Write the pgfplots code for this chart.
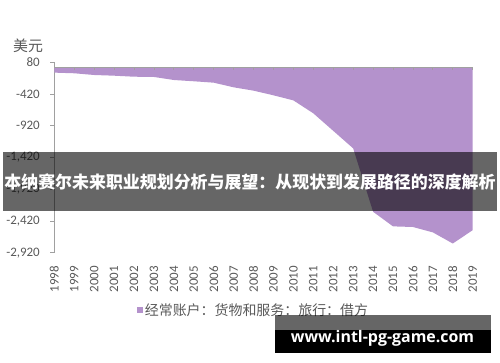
\documentclass[border=0pt]{standalone}
\usepackage{fontspec}
\setmainfont{Carlito}
\newfontfamily\cjk{Noto Sans CJK SC}
\newfontfamily\wm{Open Sans}
\usepackage{pgfplots}
\pgfplotsset{compat=1.18}
\definecolor{areapurple}{RGB}{180,146,204}
\definecolor{txtgray}{RGB}{89,89,89}
\definecolor{axgray}{RGB}{160,160,160}
\begin{document}
\begin{tikzpicture}[x=1bp,y=1bp]
\path[use as bounding box] (0,0) rectangle (500,362);
\begin{axis}[
  at={(54.3bp,109.3bp)}, anchor=south west,
  scale only axis, width=418.4bp, height=190.4bp,
  xmin=0, xmax=21, ymin=-2920, ymax=80,
  axis lines*=left,
  x axis line style={draw=none},
  y axis line style={axgray, line width=0.8bp},
  xtick={0,...,21},
  xticklabels={1998,1999,2000,2001,2002,2003,2004,2005,2006,2007,2008,2009,2010,2011,2012,2013,2014,2015,2016,2017,2018,2019},
  xtick style={draw=none},
  xticklabel style={rotate=90, anchor=east, inner sep=0pt, font=\fontsize{13}{13}\selectfont, text=txtgray},
  xticklabel shift=9bp,
  ytick={80,-420,-920,-1420,-1920,-2420,-2920},
  yticklabels={80,-420,-920,{-1,420},{-1,920},{-2,420},{-2,920}},
  yticklabel style={anchor=east, inner sep=0pt, font=\fontsize{13}{13}\selectfont, text=txtgray},
  yticklabel shift=10bp,
  ytick style={axgray, line width=0.8bp},
  tick align=outside, major tick length=4.3bp,
  clip=false,
  legend style={at={(0.476,-0.301)}, anchor=center, draw=none, fill=none, inner sep=0pt,
    font=\cjk\fontsize{14}{14}\selectfont, text=txtgray},
  legend image code/.code={\fill[areapurple] (0bp,-3bp) rectangle (6bp,3bp);},
]
\addplot[fill=areapurple, draw=none] coordinates {
  (0,0) (0,-83) (1,-93) (2,-120) (3,-131) (4,-147) (5,-151) (6,-199) (7,-219)
  (8,-241) (9,-314) (10,-367) (11,-440) (12,-520) (13,-724) (14,-1000)
  (15,-1276) (16,-2275) (17,-2505) (18,-2515) (19,-2600) (20,-2775) (21,-2565) (21,0)
} -- cycle;
\addlegendentry{经常账户：货物和服务：旅行：借方}
\draw[axgray, line width=0.8bp] (axis cs:0,0) -- (axis cs:21,0);
\pgfplotsinvokeforeach{1,...,21}{
  \draw[axgray, line width=0.8bp] (axis cs:#1,0) -- ++(0bp,-3bp);
}
\end{axis}
\node[text=txtgray, font=\cjk\fontsize{15}{15}\selectfont] at (28,316) {美元};
% banner
\fill[black, opacity=0.6] (3,151) rectangle (497,210);
\node[text=white, font=\cjk\bfseries\fontsize{17}{17}\selectfont, inner sep=0pt] at (250,180.3) {本纳赛尔未来职业规划分析与展望：从现状到发展路径的深度解析};
% watermark
\fill[black, opacity=0.6] (275,32) rectangle (491,47);
\fill[black] (275,9.3) rectangle (491,32);
\node[text=white, font=\wm\bfseries\fontsize{16}{16}\selectfont, inner sep=0pt] at (382.5,23.5) {www.intl-pg-game.com};
\end{tikzpicture}
\end{document}
